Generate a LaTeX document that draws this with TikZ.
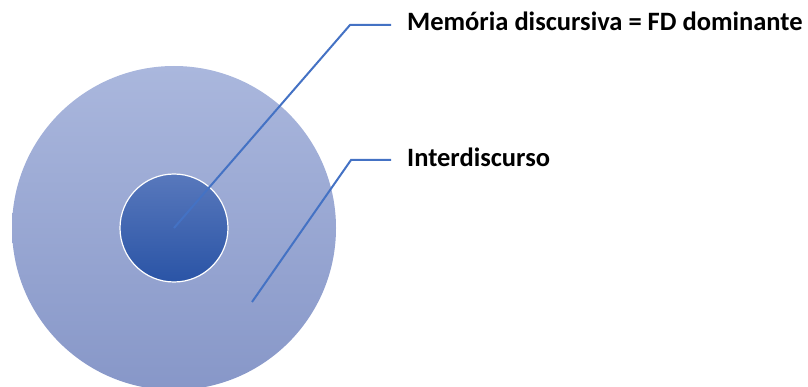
\documentclass[tikz,border=0pt]{standalone}
\usepackage{fontspec}
\setmainfont{Carlito}
\definecolor{outerTop}{HTML}{AAB7DD}
\definecolor{outerBot}{HTML}{8797C8}
\definecolor{innerTop}{HTML}{5878BC}
\definecolor{innerBot}{HTML}{2A54A6}
\definecolor{callout}{HTML}{4472C4}
\begin{document}
\begin{tikzpicture}[x=1pt,y=-1pt,
  ring/.style={circle, inner sep=0pt, outer sep=0pt},
  leader/.style={draw=callout, line width=2pt},
  label/.style={inner sep=0pt, anchor=base west, font=\fontsize{26.5}{30}\selectfont\bfseries}]
\useasboundingbox (0,0) rectangle (808,387);
% outer disc: interdiscourse
\node[ring, minimum size=324pt, top color=outerTop, bottom color=outerBot] (outer) at (174,228) {};
% inner disc: dominant discursive formation
\node[ring, minimum size=108pt, draw=white, line width=1.2pt, top color=innerTop, bottom color=innerBot] (inner) at (174,228) {};
% callout texts
\node[label] (memoria) at (407,31) {Memória discursiva = FD dominante};
\node[label] (inter) at (407,167) {Interdiscurso};
% leader lines
\coordinate (k1) at (350,25);
\coordinate (e1) at (391,25);
\coordinate (s2) at (252,302);
\coordinate (k2) at (351,160);
\coordinate (e2) at (391,160);
\draw[leader] (inner.center) -- (k1) -- (e1);
\draw[leader] (s2) -- (k2) -- (e2);
\end{tikzpicture}
\end{document}
